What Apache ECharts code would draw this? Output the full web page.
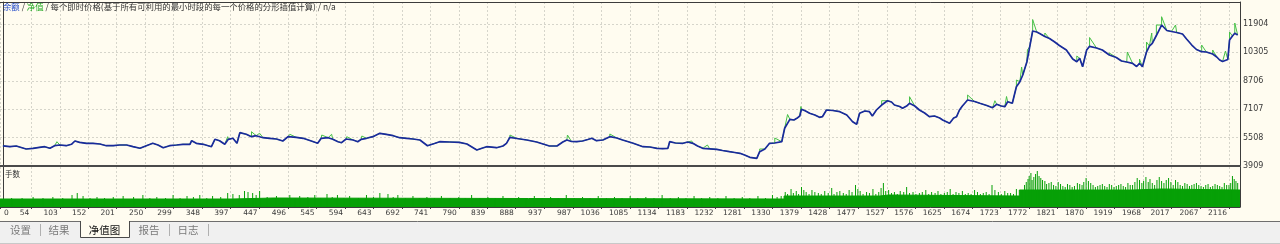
<!DOCTYPE html>
<html>
<head>
<meta charset="utf-8">
<script src="https://cdn.jsdelivr.net/npm/echarts@6/dist/echarts.min.js"></script>
<style>
html,body{margin:0;padding:0;background:#fffcf0;}
#c{width:1280px;height:244px;}
</style>
</head>
<body>
<div id="c"></div>
<script>
// ---------------- data ----------------
const xTickLabels = [0,54,103,152,201,250,299,348,397,447,496,545,594,643,692,741,790,839,888,937,987,1036,1085,1134,1183,1232,1281,1330,1379,1428,1477,1527,1576,1625,1674,1723,1772,1821,1870,1919,1968,2017,2067,2116];
const yTickLabels = [3909,5508,7107,8706,10305,11904];

// balance (余额) line: trade index, value
const balanceIdx = [5,17,28,45,57,68,77,86,94,103,
114,123,129,137,149,160,172,183,195,206,
218,229,241,252,263,272,281,292,304,315,
327,330,338,350,364,370,378,387,393,401,
408,413,424,433,441,453,464,476,487,496,
510,522,536,547,553,565,573,582,588,596,
608,616,622,631,642,654,665,677,688,700,
711,723,736,748,757,774,791,804,821,831,
838,855,866,872,878,890,907,924,946,959,
969,976,984,993,1003,1012,1019,1027,1038,1050,
1062,1072,1089,1107,1119,1131,1141,1150,1153,1163,
1176,1184,1193,1201,1210,1222,1234,1244,1256,1265,
1274,1282,1291,1303,1308,1317,1325,1334,1346,1351,
1360,1367,1372,1377,1380,1387,1394,1403,1411,1416,
1423,1434,1446,1458,1468,1475,1480,1489,1497,1502,
1509,1518,1528,1535,1540,1549,1554,1561,1566,1575,
1583,1592,1600,1609,1618,1623,1635,1642,1647,1652,
1657,1666,1678,1687,1699,1709,1716,1724,1730,1735,
1743,1750,1756,1761,1768,1773,1778,1785,1790,1799,
1807,1816,1824,1836,1847,1854,1859,1864,1871,1876,
1888,1898,1910,1922,1931,1940,1950,1957,1962,1967,
1974,1979,1984,1991,2000,2009,2017,2026,2036,2043,
2052,2060,2069,2077,2088,2095,2100,2105,2114,2117,
2122,2126,2131];
const balanceVal = [5046,4996,5035,4866,4906,4962,4996,4906,5052,5091,
5052,5131,5317,5243,5187,5187,5148,5052,5052,5091,
5091,4996,4906,5052,5187,5091,4939,5052,5091,5131,
5131,5333,5187,5131,4996,5412,5333,5131,5412,5469,
5187,5784,5694,5559,5615,5502,5469,5429,5317,5559,
5525,5469,5317,5187,5469,5502,5412,5277,5221,5429,
5373,5277,5412,5469,5559,5750,5694,5615,5502,5469,
5429,5373,5052,5176,5277,5260,5243,5148,4810,4922,
4996,4939,5035,5187,5525,5457,5373,5260,5035,5035,
5260,5373,5288,5277,5317,5401,5469,5333,5373,5559,
5485,5373,5204,4996,4979,4906,4883,4906,5277,5204,
5187,5260,5187,5035,4906,4877,4849,4782,4714,4669,
4624,4528,4399,4343,4714,4866,5187,5204,5277,6032,
6538,6499,6595,6724,7101,7006,6876,6780,6651,6685,
7062,7034,6966,6780,6403,6257,6876,7006,6966,6724,
7062,7343,7585,7512,7343,7259,7158,7287,7439,7287,
7062,6893,6685,6724,6611,6499,6313,6611,6685,7062,
7287,7625,7540,7439,7315,7191,7383,7287,7248,7529,
7439,8374,8655,9032,9764,10626,11510,11453,11369,11200,
11087,10890,10693,10440,9933,9781,9973,9500,10440,10648,
10552,10440,10158,10018,9821,9764,9691,9511,9691,9500,
10327,10665,10817,11256,11847,11538,11481,11425,11341,11059,
10721,10468,10344,10327,10215,10046,9877,9792,9905,11003,
11228,11380,11284];

// equity (净值) peaks above the balance line
const equitySpikeIdx = [98,129,330,370,392,433,447,499,554,571,597,623,878,977,1050,1191,1218,1308,1334,1356,1379,1423,1518,1566,1666,1713,1733,1750,1759,1769,1778,1799,1854,1876,1910,1941,1962,1974,1983,1991,2000,2024,2036,2069,2088,2110,2117,2126];
const equitySpikeVal = [5277,5429,5429,5502,5559,5840,5750,5694,5654,5694,5559,5598,5654,5654,5711,5317,5091,4866,5485,6808,7259,7174,7585,7811,7906,7585,7822,8751,9483,10440,12157,11397,10102,11144,10271,10327,9933,10890,11397,11847,12315,11847,11453,10721,10440,10384,11453,11960];

// 手数 (lots): typical level per stretch of trades, and the taller single trades
const lotsLevelIdx = [0,400,470,1350,1515,1530,1755,1950,2000,2135];
const lotsLevelVal = [8,9,8,11,12,11,17,18,17,17];
const lotsPeakIdx = [20,38,57,74,91,108,124,133,143,155,167,180,195,212,230,246,258,270,285,298,310,322,333,344,356,366,380,392,401,412,421,427,435,441,447,460,476,488,499,508,516,530,542,552,563,572,581,592,602,617,631,643,654,668,677,685,698,711,722,735,748,760,775,790,801,812,826,840,853,866,880,893,906,920,934,948,961,975,989,1003,1016,1030,1044,1058,1071,1085,1098,1112,1126,1140,1154,1168,1181,1195,1208,1222,1236,1250,1264,1278,1291,1305,1318,1330,1338,1345,
1352,1356,1362,1366,1371,1375,1380,1384,1388,1393,1398,1403,1409,1414,1420,1426,1432,1436,1441,1446,1452,1457,1462,1467,1473,1477,1481,1486,1492,1497,1503,1508,1513,1517,1521,1525,1530,1535,1540,1545,1550,1556,1561,1566,1572,1577,1583,1588,1594,1599,1604,1610,1615,1620,1626,1631,1636,1641,1646,1651,1657,1662,1667,1672,1678,1683,1688,1693,1698,1703,1708,1713,1719,1724,1730,1735,1740,1745,1750,
1757,1760,1764,1767,1770,1772,1775,1777,1780,1783,1786,1789,1792,1795,1799,1802,1806,1810,1814,1818,1822,1826,1830,1834,1838,1842,1846,1850,1855,1859,1863,1866,1870,1874,1878,1882,1886,1890,1894,1898,1902,1906,1910,1914,1918,1922,1926,1930,1934,1938,1942,1946,1950,1954,1958,1962,1966,1969,1973,1977,1980,1984,1988,1992,1996,2000,2004,2008,2012,2016,2020,2024,2028,2032,2036,2040,2044,2048,2052,2056,2060,2064,2068,2072,2076,2080,2084,2088,2092,2096,2100,2104,2108,2112,2116,2119,2122,2125,2128,2131];
const lotsPeakVal = [9,9,10,9,10,9,12,14,11,9,10,9,10,11,10,12,9,10,9,12,9,11,10,12,9,11,10,14,13,12,16,15,14,12,16,10,11,9,12,9,11,10,12,9,13,10,12,9,11,9,12,10,14,13,10,12,9,11,9,10,9,11,9,10,9,12,9,10,9,11,9,10,9,11,9,10,9,12,9,10,9,11,9,10,9,11,9,10,9,12,9,10,9,11,9,10,9,11,9,10,9,11,9,12,10,11,
15,13,18,14,16,13,20,17,15,13,17,15,14,13,16,14,19,13,15,16,14,13,17,15,22,18,16,13,15,14,18,13,15,19,24,16,17,14,15,13,16,15,20,14,15,13,14,15,17,13,15,14,16,13,14,15,18,13,15,14,16,13,14,13,17,15,13,14,15,13,22,17,15,13,16,14,14,13,18,15,17,
22,25,28,31,34,27,30,33,36,31,29,27,26,23,24,25,22,21,25,23,21,20,23,22,20,21,24,23,22,25,29,26,24,22,20,21,22,23,21,20,23,22,20,21,22,23,21,20,24,22,22,25,29,27,24,26,30,25,28,24,22,27,30,26,24,27,29,25,22,27,25,22,21,24,23,21,22,23,24,22,21,20,22,23,20,21,23,22,21,20,24,22,22,24,31,28,26,24,32,27];

const titleParts = {balance:'余额', equity:'净值', rest:'每个即时价格(基于所有可利用的最小时段的每一个价格的分形插值计算)', tail:'n/a'};
const volumeTitle = '手数';
const tabs = ['设置','结果','净值图','报告','日志'];
const activeTab = 2;

// ---------------- build ----------------
const balanceData = balanceIdx.map((x,i)=>[x, balanceVal[i]]);
const equityData = balanceData.map(p=>({x:p[0], v:p[1], o:0}))
  .concat(equitySpikeIdx.map((x,i)=>({x:x, v:equitySpikeVal[i], o:1})))
  .sort((a,b)=>a.x-b.x || a.o-b.o)
  .map(p=>[p.x,p.v]);
const lotsLevelData = lotsLevelIdx.map((x,i)=>[x, lotsLevelVal[i]]);
const lotsPeakData = lotsPeakIdx.map((x,i)=>[x, lotsPeakVal[i]]);

const BG = '#fffcf0';
const AXIS = '#3c3c3c';
const LBL = '#3a3a3a';
const GREEN = '#07a007';
const NUMFONT = 'DejaVu Sans';
const CJK = 'Noto Sans CJK SC';
const XMAX = 2135;
const dashed = {show:true, lineStyle:{color:'#d6d5cb', type:[2,2], width:1}};

// tab layout (pixel centres)
const tabCenters = [20.5, 59, 104.5, 149, 188];
const tabSeps = [40, 169, 208];

const graphic = [
  {type:'rect', silent:true, shape:{x:0,y:221,width:1280,height:23}, style:{fill:'#f0f0f0'}},
  {type:'line', silent:true, shape:{x1:0,y1:243.5,x2:1280,y2:243.5}, style:{stroke:'#c8c8c8', lineWidth:1}},
  {type:'line', silent:true, shape:{x1:0,y1:221.5,x2:80,y2:221.5}, style:{stroke:'#6e6e6e', lineWidth:1}},
  {type:'line', silent:true, shape:{x1:130,y1:221.5,x2:1280,y2:221.5}, style:{stroke:'#6e6e6e', lineWidth:1}},
  {type:'rect', silent:true, shape:{x:80.5,y:221,width:49,height:16.5}, style:{fill:BG}},
  {type:'polyline', silent:true, shape:{points:[[80.5,221],[80.5,237.5],[129.5,237.5],[129.5,221]]}, style:{stroke:'#4a4a4a', fill:null, lineWidth:1}}
];
tabs.forEach((t,i)=>{
  graphic.push({type:'text', silent:true, x:tabCenters[i], y:230,
    style:{text:t, fontSize:10.5, fontFamily:CJK, fill: i===activeTab ? '#111' : '#7a7a7a',
      align:'center', verticalAlign:'middle', textAlign:'center', textVerticalAlign:'middle'}});
});
tabSeps.forEach(x=>{
  graphic.push({type:'line', silent:true, shape:{x1:x+0.5,y1:224,x2:x+0.5,y2:236}, style:{stroke:'#b0b0b0', lineWidth:1}});
});

const chart = echarts.init(document.getElementById('c'), null, {renderer:'canvas'});
chart.setOption({
  animation:false,
  backgroundColor:BG,
  textStyle:{fontFamily:NUMFONT},
  title:[
    {text:'{b|'+titleParts.balance+'} / {g|'+titleParts.equity+'} / '+titleParts.rest+' / '+titleParts.tail,
     left:3, top:3, padding:0,
     textStyle:{fontSize:8.4, fontWeight:'normal', fontFamily:CJK, color:'#333',
       rich:{b:{color:'#2048c8', fontSize:8.4, fontFamily:CJK}, g:{color:'#20a820', fontSize:8.4, fontFamily:CJK}}}},
    {text:volumeTitle, left:5, top:170, padding:0,
     textStyle:{fontSize:7.5, fontWeight:'normal', fontFamily:CJK, color:'#333'}}
  ],
  grid:[
    {left:0, top:2, width:1240, height:164},
    {left:0, top:167, width:1240, height:40}
  ],
  xAxis:[
    {gridIndex:0, type:'value', min:0, max:XMAX, position:'bottom',
     axisLine:{show:true, onZero:false, lineStyle:{color:'#4a4a4a', width:2}},
     axisTick:{show:false, customValues:xTickLabels}, axisLabel:{show:false},
     splitLine:dashed},
    {gridIndex:0, type:'value', min:0, max:XMAX, position:'top',
     axisLine:{show:true, onZero:false, lineStyle:{color:AXIS, width:1}},
     axisTick:{show:false}, axisLabel:{show:false}, splitLine:{show:false}},
    {gridIndex:1, type:'value', min:0, max:XMAX, position:'bottom',
     axisLine:{show:true, onZero:false, lineStyle:{color:AXIS, width:1}},
     axisTick:{show:true, customValues:xTickLabels, length:2, lineStyle:{color:AXIS}},
     axisLabel:{show:true, customValues:xTickLabels, fontSize:7.5, color:LBL, fontFamily:NUMFONT,
       margin:2, align:'right', alignMinLabel:'left', padding:[0,2,0,0],
       formatter:v => v===0 ? '{z|0}' : String(v),
       rich:{z:{padding:[0,0,0,4], fontSize:7.5, color:LBL, fontFamily:NUMFONT}}},
     splitLine:dashed}
  ],
  yAxis:[
    {gridIndex:0, type:'value', min:3909, max:13143, position:'right',
     axisLine:{show:true, onZero:false, lineStyle:{color:AXIS, width:1}},
     axisTick:{show:false, customValues:yTickLabels},
     axisLabel:{show:true, customValues:yTickLabels, fontSize:8, color:LBL, fontFamily:NUMFONT, margin:3,
       formatter:v => String(v)},
     splitLine:dashed},
    {gridIndex:0, type:'value', min:3909, max:13143, position:'left', offset:-3,
     axisLine:{show:true, onZero:false, lineStyle:{color:AXIS, width:1}},
     axisTick:{show:false}, axisLabel:{show:false}, splitLine:{show:false}},
    {gridIndex:1, type:'value', min:0, max:40, position:'right',
     axisLine:{show:true, onZero:false, lineStyle:{color:AXIS, width:1}},
     axisTick:{show:false}, axisLabel:{show:false}, splitLine:{show:false}},
    {gridIndex:1, type:'value', min:0, max:40, position:'left', offset:-3,
     axisLine:{show:true, onZero:false, lineStyle:{color:AXIS, width:1}},
     axisTick:{show:false}, axisLabel:{show:false}, splitLine:{show:false}}
  ],
  series:[
    {name:'净值', type:'line', xAxisIndex:0, yAxisIndex:0, data:equityData,
     showSymbol:false, symbol:'none', z:2, lineStyle:{color:'#46c046', width:1}},
    {name:'余额', type:'line', xAxisIndex:0, yAxisIndex:0, data:balanceData,
     showSymbol:false, symbol:'none', z:3, lineStyle:{color:'#1a2a9c', width:1.7}},
    {name:'手数', type:'line', xAxisIndex:2, yAxisIndex:2, data:lotsLevelData, step:'end',
     showSymbol:false, symbol:'none', z:2, lineStyle:{color:GREEN, width:1},
     areaStyle:{color:GREEN, opacity:1}},
    {name:'手数峰', type:'bar', xAxisIndex:2, yAxisIndex:2, data:lotsPeakData,
     barWidth:1, z:3, itemStyle:{color:GREEN}}
  ],
  graphic:graphic
});
</script>
</body>
</html>
